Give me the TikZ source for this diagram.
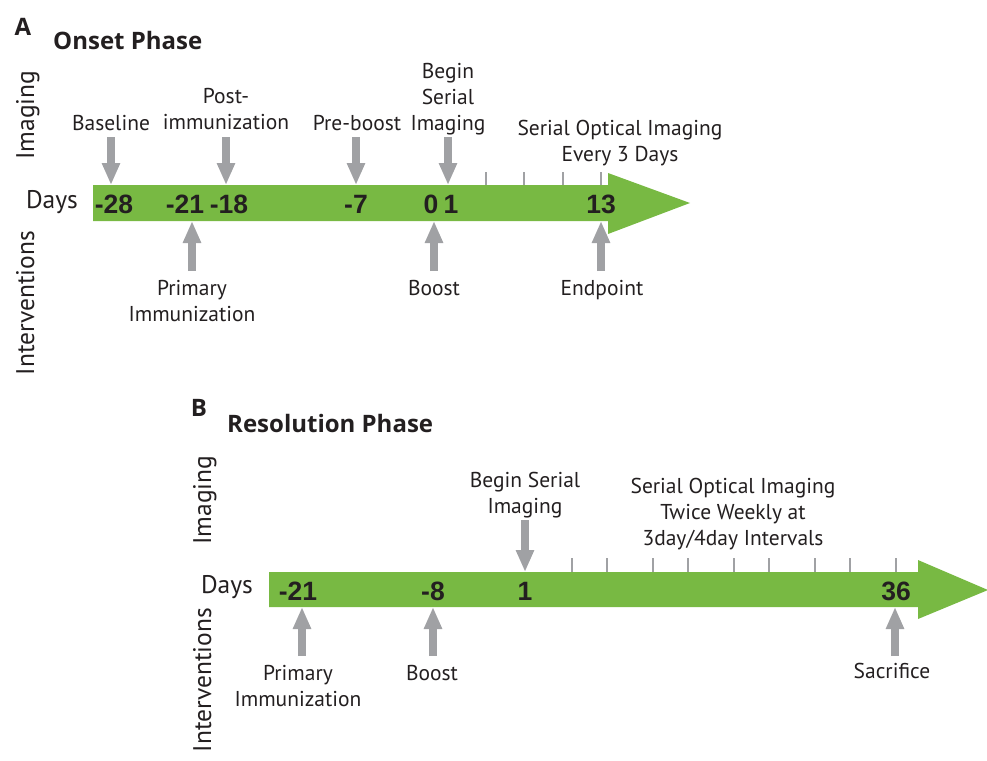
\documentclass[tikz,border=0pt]{standalone}
\usepackage{fontspec}
\setmainfont{PT Sans}
\newfontfamily\numfont{Liberation Sans}
\newfontfamily\headfont{Open Sans}
\usetikzlibrary{arrows.meta}
\definecolor{bargreen}{RGB}{120,185,67}
\definecolor{arrgray}{RGB}{160,161,164}
\definecolor{txtblack}{RGB}{35,31,32}
\tikzset{
  lbl/.style={font=\fontsize{21.5}{26}\selectfont, text=txtblack, align=center, inner sep=0pt, anchor=north},
  axislbl/.style={font=\fontsize{25.5}{30}\selectfont, text=txtblack, inner sep=0pt, anchor=base},
  daynum/.style={font=\numfont\bfseries\fontsize{26.5}{30}\selectfont, text=txtblack, inner sep=0pt, anchor=base},
  phase/.style={font=\headfont\bfseries\fontsize{24}{28}\selectfont, text=txtblack, inner sep=0pt, anchor=base west},
  panel/.style={font=\headfont\bfseries\fontsize{24}{28}\selectfont, text=txtblack, inner sep=0pt},
  garrow/.style={draw=arrgray, line width=7.5pt, -{Triangle[width=17pt,length=22pt]}},
  tickmark/.style={draw=arrgray, line width=1.3pt},
}
\begin{document}
\begin{tikzpicture}[x=1pt,y=-1pt]
\useasboundingbox (0,0) rectangle (987,760);
% panel A
\node[panel] (lblA) at (23,27) {A};
\node[phase] (onset) at (53,49) {Onset Phase};
\node[axislbl, rotate=90] (imgA) at (34,115) {Imaging};
\node[axislbl, rotate=90] (intA) at (34,303) {Interventions};
\node[axislbl] (daysA) at (52,208) {Days};
\fill[bargreen] (93,185) -- (608,185) -- (608,173) -- (690,203) -- (608,234) -- (608,221) -- (93,221) -- cycle;
\draw[tickmark] (486,172) -- (486,185);
\draw[tickmark] (524,172) -- (524,185);
\draw[tickmark] (563,172) -- (563,185);
\draw[tickmark] (601,172) -- (601,185);
\node[daynum] (dm28) at (114,213) {-28};
\node[daynum] (dm21) at (185,213) {-21};
\node[daynum] (dm18) at (229,213) {-18};
\node[daynum] (dm7) at (356,213) {-7};
\node[daynum] (d0) at (431,213) {0};
\node[daynum] (d1) at (451,213) {1};
\node[daynum] (d13) at (601,213) {13};
% imaging, panel A
\node[lbl] (baseline) at (111,115) {Baseline};
\node[lbl] (postimm) at (226,88) {Post-\\immunization};
\node[lbl] (preboost) at (357,115) {Pre-boost};
\node[lbl] (beginA) at (448,63) {Begin\\Serial\\Imaging};
\node[lbl] (serialA) at (620,120) {Serial Optical Imaging\\Every 3 Days};
\coordinate (baseline-s) at (111,137);
\coordinate (baseline-e) at (111,185);
\coordinate (postimm-s) at (226,137);
\coordinate (postimm-e) at (226,185);
\coordinate (preboost-s) at (356,137);
\coordinate (preboost-e) at (356,185);
\coordinate (beginA-s) at (448,137);
\coordinate (beginA-e) at (448,185);
\draw[garrow] (baseline-s) -- (baseline-e);
\draw[garrow] (postimm-s) -- (postimm-e);
\draw[garrow] (preboost-s) -- (preboost-e);
\draw[garrow] (beginA-s) -- (beginA-e);
% interventions, panel A
\node[lbl] (primA) at (192,280) {Primary\\Immunization};
\node[lbl] (boostA) at (434,280) {Boost};
\node[lbl] (endpoint) at (602,280) {Endpoint};
\coordinate (primA-s) at (192,271);
\coordinate (primA-e) at (192,221);
\coordinate (boostA-s) at (434,271);
\coordinate (boostA-e) at (434,221);
\coordinate (endpoint-s) at (601,271);
\coordinate (endpoint-e) at (601,221);
\draw[garrow] (primA-s) -- (primA-e);
\draw[garrow] (boostA-s) -- (boostA-e);
\draw[garrow] (endpoint-s) -- (endpoint-e);
% panel B
\node[panel] (lblB) at (199,408) {B};
\node[phase] (resol) at (227,432) {Resolution Phase};
\node[axislbl, rotate=90] (imgB) at (211,500) {Imaging};
\node[axislbl, rotate=90] (intB) at (211,680) {Interventions};
\node[axislbl] (daysB) at (227,593) {Days};
\fill[bargreen] (269,572) -- (918,572) -- (918,560) -- (988,590) -- (918,619) -- (918,607) -- (269,607) -- cycle;
\draw[tickmark] (572,558) -- (572,572);
\draw[tickmark] (607,558) -- (607,572);
\draw[tickmark] (653,558) -- (653,572);
\draw[tickmark] (688,558) -- (688,572);
\draw[tickmark] (734,558) -- (734,572);
\draw[tickmark] (769,558) -- (769,572);
\draw[tickmark] (815,558) -- (815,572);
\draw[tickmark] (850,558) -- (850,572);
\draw[tickmark] (896,558) -- (896,572);
\node[daynum] (em21) at (298,600) {-21};
\node[daynum] (em8) at (433,600) {-8};
\node[daynum] (e1) at (525,600) {1};
\node[daynum] (e36) at (896,600) {36};
% imaging, panel B
\node[lbl] (beginB) at (525,472) {Begin Serial\\Imaging};
\node[lbl] (serialB) at (733,478) {Serial Optical Imaging\\Twice Weekly at\\3day/4day Intervals};
\coordinate (beginB-s) at (525,520);
\coordinate (beginB-e) at (525,572);
\draw[garrow] (beginB-s) -- (beginB-e);
% interventions, panel B
\node[lbl] (primB) at (298,665) {Primary\\Immunization};
\node[lbl] (boostB) at (432,665) {Boost};
\node[lbl] (sacrifice) at (892,663) {Sacrifice};
\coordinate (primB-s) at (302,656);
\coordinate (primB-e) at (302,607);
\coordinate (boostB-s) at (433,656);
\coordinate (boostB-e) at (433,607);
\coordinate (sacrifice-s) at (895,656);
\coordinate (sacrifice-e) at (895,607);
\draw[garrow] (primB-s) -- (primB-e);
\draw[garrow] (boostB-s) -- (boostB-e);
\draw[garrow] (sacrifice-s) -- (sacrifice-e);
\end{tikzpicture}
\end{document}
